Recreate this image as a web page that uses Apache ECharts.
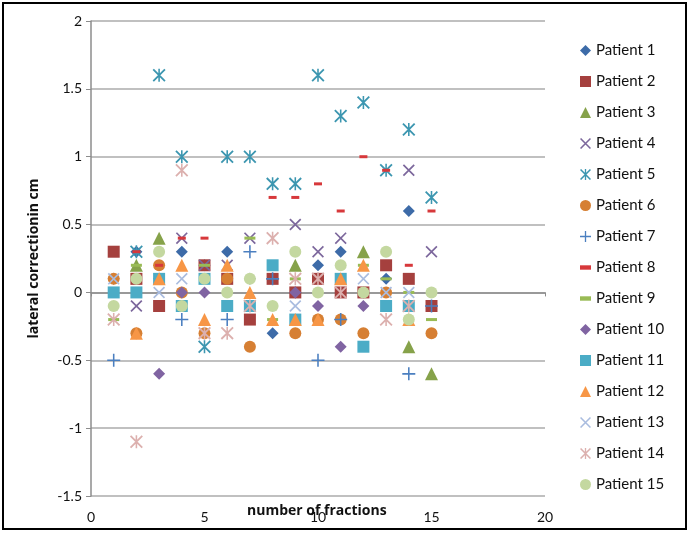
<!DOCTYPE html>
<html>
<head>
<meta charset="utf-8">
<script src="https://cdn.jsdelivr.net/npm/echarts@6/dist/echarts.min.js"></script>
<style>
  html, body { margin: 0; padding: 0; background: #fff; }
  #chart { width: 690px; height: 533px; }
</style>
</head>
<body>
<div id="chart"></div>
<script>
// fractions 1..15 on the x axis
const fractions = [1, 2, 3, 4, 5, 6, 7, 8, 9, 10, 11, 12, 13, 14, 15];
const xTicks = [0, 5, 10, 15, 20];
const yTicks = [-1.5, -1, -0.5, 0, 0.5, 1, 1.5, 2];

// lateral correction (cm) per patient, null = hidden / not visible
const patient1 = [0.1, 0.3, 0.1, 0.3, 0.2, 0.3, 0.1, -0.3, 0, 0.2, 0.3, 0, 0.1, 0.6, -0.1];
const patient2 = [0.3, 0.1, -0.1, null, 0.2, 0.1, -0.2, 0.1, 0, 0.1, 0, 0, 0.2, 0.1, -0.1];
const patient3 = [null, 0.2, 0.4, null, null, null, null, null, 0.2, null, null, 0.3, null, -0.4, -0.6];
const patient4 = [null, -0.1, null, 0.4, 0.2, 0.2, 0.4, null, 0.5, 0.3, 0.4, null, null, 0.9, 0.3];
const patient5 = [null, 0.3, 1.6, 1.0, -0.4, 1.0, 1.0, 0.8, 0.8, 1.6, 1.3, 1.4, 0.9, 1.2, 0.7];
const patient6 = [0.1, -0.3, 0.2, 0, -0.3, 0.1, -0.4, null, -0.3, -0.2, -0.2, -0.3, 0, null, -0.3];
const patient7 = [-0.5, null, null, -0.2, null, -0.2, 0.3, 0.1, null, -0.5, -0.2, null, null, -0.6, -0.1];
const patient8 = [null, 0.3, 0.2, 0.4, 0.4, -0.1, null, 0.7, 0.7, 0.8, 0.6, 1.0, 0.9, 0.2, 0.6];
const patient9 = [-0.2, 0.2, null, null, 0.2, null, 0.4, -0.2, 0.1, null, null, 0.2, 0.1, 0, -0.2];
const patient10 = [null, null, -0.6, 0, 0, null, null, null, 0, -0.1, -0.4, -0.1, null, null, null];
const patient11 = [0, 0, 0.1, -0.1, 0.1, -0.1, -0.1, 0.2, -0.2, null, 0.1, -0.4, -0.1, -0.1, null];
const patient12 = [null, -0.3, 0.1, 0.2, -0.2, 0.2, 0, -0.2, -0.2, -0.2, 0.1, 0.2, null, -0.2, null];
const patient13 = [0.1, null, 0, 0.1, null, null, null, null, -0.1, null, null, 0.1, 0, 0, null];
const patient14 = [-0.2, -1.1, null, 0.9, -0.3, -0.3, -0.1, 0.4, 0.1, 0.1, 0, null, -0.2, -0.1, null];
const patient15 = [-0.1, 0.1, 0.3, -0.1, 0.1, 0, 0.1, -0.1, 0.3, 0, 0.2, 0, 0.3, -0.2, 0];

const patients = [patient1, patient2, patient3, patient4, patient5, patient6, patient7, patient8,
  patient9, patient10, patient11, patient12, patient13, patient14, patient15];

// marker shapes
const xPath = 'path://M0,1 L1,0 L10,9 L9,10 Z M9,0 L10,1 L1,10 L0,9 Z';
const starPath = 'path://M0,1 L1,0 L10,9 L9,10 Z M9,0 L10,1 L1,10 L0,9 Z M4.4,0 L5.6,0 L5.6,10 L4.4,10 Z';
const plusPath = 'path://M4.4,0 L5.6,0 L5.6,10 L4.4,10 Z M0,4.4 L10,4.4 L10,5.6 L0,5.6 Z';
const dashPath = 'path://M0,0 L10,0 L10,4 L0,4 Z';

const markers = [
  { symbol: 'diamond', size: 12, color: '#3d6ba8' },
  { symbol: 'rect', size: 12, color: '#a5403e' },
  { symbol: 'triangle', size: 13, color: '#86a24a' },
  { symbol: xPath, size: 12, color: '#7c679c' },
  { symbol: starPath, size: 13, color: '#3c96b0' },
  { symbol: 'circle', size: 12, color: '#d67f33' },
  { symbol: plusPath, size: 13, color: '#4b7fc0' },
  { symbol: dashPath, size: [8, 3], color: '#d7383b' },
  { symbol: dashPath, size: [11, 3], color: '#99bb55' },
  { symbol: 'diamond', size: 12, color: '#8064a2' },
  { symbol: 'rect', size: 12, color: '#4bacc6' },
  { symbol: 'triangle', size: 13, color: '#f79646' },
  { symbol: xPath, size: 12, color: '#a9bcdf' },
  { symbol: starPath, size: 13, color: '#dcb0ae' },
  { symbol: 'circle', size: 12, color: '#c4d8a0' }
];

const seriesList = patients.map((vals, i) => ({
  name: 'Patient ' + (i + 1),
  type: 'scatter',
  symbol: markers[i].symbol,
  symbolSize: markers[i].size,
  itemStyle: { color: markers[i].color, opacity: 1 },
  data: fractions.map((f, k) => [f, vals[k]]).filter(d => d[1] !== null)
}));

const chart = echarts.init(document.getElementById('chart'));
const option = {
  backgroundColor: '#fff',
  animation: false,
  textStyle: { fontFamily: 'Lato' },
  graphic: [{
    type: 'rect',
    shape: { x: 3, y: 3, width: 683, height: 526 },
    style: { fill: 'none', stroke: '#000', lineWidth: 2 },
    silent: true
  }, {
    // x axis title sits at the bottom of the plot, not next to the zero line
    type: 'text',
    left: 247,
    top: 504,
    style: {
      text: 'number of fractions',
      font: 'bold 14px "Open Sans"',
      fill: '#111'
    },
    silent: true
  }],
  grid: { left: 91, right: 145, top: 21, bottom: 37, containLabel: false, outerBoundsMode: 'none' },
  legend: {
    orient: 'vertical',
    left: 575,
    top: 38,
    itemWidth: 11,
    itemHeight: 11,
    itemGap: 16,
    textStyle: { fontSize: 15, color: '#111', lineHeight: 13, fontFamily: 'Lato' },
    data: seriesList.map(s => s.name)
  },
  xAxis: {
    type: 'value',
    min: xTicks[0],
    max: xTicks[xTicks.length - 1],
    interval: 5,
    axisLine: { onZero: true, lineStyle: { color: '#8c8c8c', width: 1.5 } },
    axisTick: { show: true, length: 4, lineStyle: { color: '#8c8c8c' } },
    axisLabel: { fontSize: 14, color: '#111', margin: 14 },
    splitLine: { show: false }
  },
  yAxis: {
    type: 'value',
    min: yTicks[0],
    max: yTicks[yTicks.length - 1],
    interval: 0.5,
    name: 'lateral correctionin cm',
    nameLocation: 'middle',
    nameRotate: 90,
    nameGap: 50,
    nameTextStyle: { fontWeight: 'bold', fontSize: 14, color: '#111', fontFamily: 'Open Sans' },
    axisLine: { show: true, lineStyle: { color: '#8c8c8c', width: 1.5 } },
    axisTick: { show: true, length: 5, lineStyle: { color: '#8c8c8c' } },
    axisLabel: { fontSize: 14, color: '#111', margin: 9 },
    splitLine: { show: true, lineStyle: { color: '#ababab', width: 1.5 } }
  },
  series: seriesList
};
chart.setOption(option);
</script>
</body>
</html>
